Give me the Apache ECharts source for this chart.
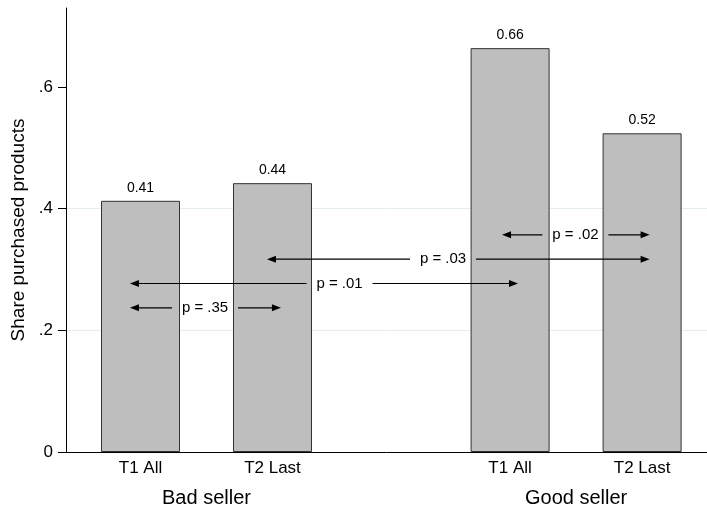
<!DOCTYPE html>
<html><head><meta charset="utf-8">
<script src="https://cdn.jsdelivr.net/npm/echarts@6/dist/echarts.min.js"></script>
<style>html,body{margin:0;padding:0;background:#fff}#c{width:707px;height:508px}</style>
</head><body><div id="c"></div>
<script>
const categories = ['T1 All', 'T2 Last', 'T1 All', 'T2 Last'];
const positions = [1, 2, 3.8, 4.8];
const values = [0.413, 0.442, 0.664, 0.524];
const groups = ['Bad seller', 'Good seller'];
const groupPositions = [1.5, 4.3];
const yTicks = [0, 0.2, 0.4, 0.6];
const yTickLabels = ['0', '.2', '.4', '.6'];
const pLabels = ['p = .35', 'p = .01', 'p = .03', 'p = .02'];
const pY = [0.237, 0.277, 0.317, 0.357];
const pLeftTip = [0.920, 0.920, 1.958, 3.739];
const pCenter = [1.489, 2.508, 3.292, 4.295];
const pRightTip = [2.064, 3.860, 4.857, 4.857];

const FONT = 'Liberation Sans';
function near(arr, v) {
  let best = 0, d = Infinity;
  arr.forEach((a, i) => { if (Math.abs(a - v) < d) { d = Math.abs(a - v); best = i; } });
  return best;
}
const chart = echarts.init(document.getElementById('c'), null, {renderer: 'canvas'});
const X_MIN = 0.4356, X_MAX = 5.2917;
chart.setOption({
  animation: false,
  textStyle: {fontFamily: FONT, color: '#000'},
  grid: {left: 66, right: 0, top: 8, bottom: 56, containLabel: false, outerBoundsMode: 'none'},
  xAxis: [{
    type: 'value', min: X_MIN, max: X_MAX, position: 'bottom',
    axisLine: {show: true, lineStyle: {color: '#000', width: 1}},
    axisTick: {show: false},
    splitLine: {show: false},
    axisLabel: {customValues: positions, margin: 8, fontSize: 17, color: '#000', fontFamily: FONT,
      formatter: v => categories[near(positions, v)]}
  }, {
    type: 'value', min: X_MIN, max: X_MAX, position: 'bottom',
    axisLine: {show: false}, axisTick: {show: false}, splitLine: {show: false},
    axisLabel: {customValues: groupPositions, margin: 36, fontSize: 20, color: '#000', fontFamily: FONT,
      formatter: v => groups[near(groupPositions, v)]}
  }],
  yAxis: {
    type: 'value', min: 0, max: 0.73, interval: 0.2,
    name: 'Share purchased products', nameLocation: 'middle', nameGap: 33,
    nameTextStyle: {fontSize: 19, color: '#000', fontFamily: FONT},
    axisLine: {show: true, lineStyle: {color: '#000', width: 1}},
    axisTick: {show: true, length: 8, customValues: yTicks, lineStyle: {color: '#000'}},
    axisLabel: {customValues: yTicks, margin: 13, fontSize: 17, color: '#000', fontFamily: FONT,
      formatter: v => yTickLabels[near(yTicks, v)]},
    splitLine: {show: true, showMinLine: false, showMaxLine: false, lineStyle: {color: '#e4eef0', width: 1}}
  },
  series: [{
    type: 'bar', xAxisIndex: 0, barWidth: 79, z: 2,
    data: positions.map((p, i) => [p, values[i]]),
    itemStyle: {color: '#bebebe', borderColor: '#333', borderWidth: 1},
    label: {show: true, position: 'top', distance: 6, fontSize: 14, color: '#000', fontFamily: FONT,
      formatter: p => p.value[1].toFixed(2)}
  }, {
    type: 'custom', xAxisIndex: 0, z: 5,
    data: pLabels.map((t, i) => [pLeftTip[i], pCenter[i], pRightTip[i], pY[i]]),
    encode: {x: [0, 1, 2], y: 3},
    renderItem: (params, api) => {
      const i = params.dataIndex;
      const y = api.coord([0, api.value(3)])[1];
      const l = api.coord([api.value(0), 0])[0];
      const c = api.coord([api.value(1), 0])[0];
      const r = api.coord([api.value(2), 0])[0];
      const gap = 33, ah = 9, aw = 3.5;
      const ls = {stroke: '#000', lineWidth: 1.2};
      return {type: 'group', children: [
        {type: 'line', shape: {x1: c - gap, y1: y, x2: l + ah - 1, y2: y}, style: ls},
        {type: 'polygon', shape: {points: [[l, y], [l + ah, y - aw], [l + ah, y + aw]]}, style: {fill: '#000'}},
        {type: 'line', shape: {x1: c + gap, y1: y, x2: r - ah + 1, y2: y}, style: ls},
        {type: 'polygon', shape: {points: [[r, y], [r - ah, y - aw], [r - ah, y + aw]]}, style: {fill: '#000'}},
        {type: 'text', x: c, y: y, style: {text: pLabels[i], fontSize: 15, fontFamily: FONT, fill: '#000',
          align: 'center', verticalAlign: 'middle'}}
      ]};
    }
  }]
});
</script></body></html>
